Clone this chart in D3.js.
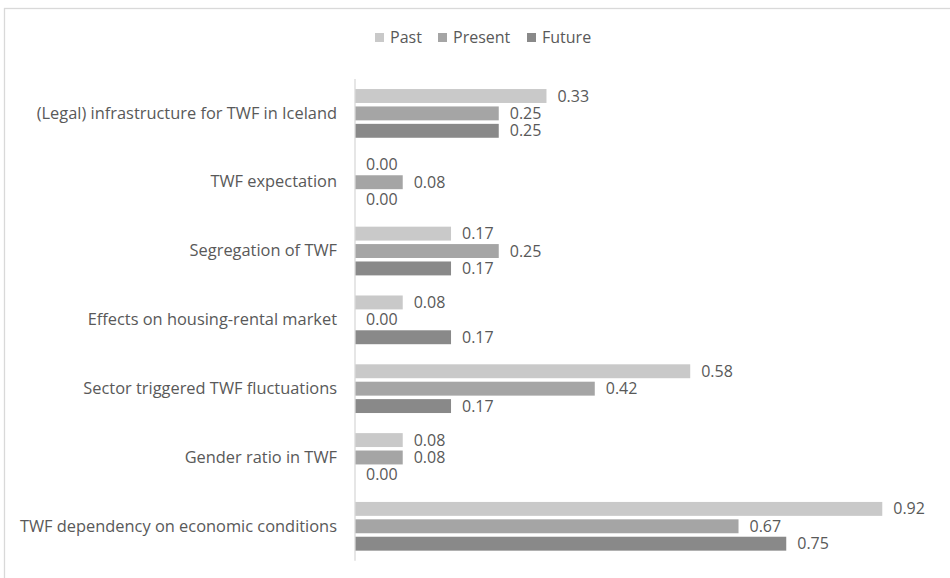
<!DOCTYPE html>
<html>
<head>
<meta charset="utf-8">
<script src="https://cdnjs.cloudflare.com/ajax/libs/d3/7.8.5/d3.min.js"></script>
<style>
  body { margin: 0; background: #fff; }
  svg { display: block; font-family: "Open Sans", "Segoe UI", sans-serif; }
</style>
</head>
<body>
<svg class="chart" width="950" height="578"></svg>
<script>
// data (shares, labels shown with 2 decimals)
var categories = [
  "(Legal) infrastructure for TWF in Iceland",
  "TWF expectation",
  "Segregation of TWF",
  "Effects on housing-rental market",
  "Sector triggered TWF fluctuations",
  "Gender ratio in TWF",
  "TWF dependency on economic conditions"
];
var series = ["Past", "Present", "Future"];
var past    = [0.333, 0.000, 0.167, 0.083, 0.583, 0.083, 0.917];
var present = [0.250, 0.083, 0.250, 0.000, 0.417, 0.083, 0.667];
var future  = [0.250, 0.000, 0.167, 0.167, 0.167, 0.000, 0.750];
var colors = ["#c9c9c9", "#a5a5a5", "#898989"];
var text_color = "#595959";

var svg = d3.select(".chart");

// chart frame
svg.append("rect")
  .attr("x", 4.5).attr("y", 8.5)
  .attr("width", 960).attr("height", 600)
  .attr("fill", "none")
  .attr("stroke", "#d9d9d9")
  .attr("stroke-width", 1.3);

var x = d3.scaleLinear().domain([0, 1]).range([355, 930]);
var y = d3.scaleBand().domain(categories).range([79, 560.7])
  .paddingInner(0.292).paddingOuter(0.146);
var ys = d3.scaleBand().domain(series).range([0, y.bandwidth()])
  .paddingInner(0.2);

var rows = categories.map(function(c, i) {
  return {cat: c, vals: [past[i], present[i], future[i]]};
});

var groups = svg.append("g").selectAll("g")
  .data(rows).enter().append("g")
  .attr("transform", function(d) { return "translate(0," + y(d.cat) + ")"; });

groups.selectAll("rect")
  .data(function(d) { return d.vals.map(function(v, j) { return {s: series[j], v: v, j: j}; }); })
  .enter().append("rect")
  .attr("x", x(0))
  .attr("y", function(d) { return ys(d.s); })
  .attr("width", function(d) { return x(d.v) - x(0); })
  .attr("height", ys.bandwidth())
  .attr("fill", function(d) { return colors[d.j]; });

groups.selectAll("text.val")
  .data(function(d) { return d.vals.map(function(v, j) { return {s: series[j], v: v}; }); })
  .enter().append("text")
  .attr("class", "val")
  .attr("x", function(d) { return x(d.v) + 11; })
  .attr("y", function(d) { return ys(d.s) + ys.bandwidth() / 2; })
  .attr("dy", "0.35em")
  .attr("font-size", 16)
  .attr("fill", text_color)
  .text(function(d) { return d3.format(".2f")(d.v); });

// category axis
var yAxis = svg.append("g")
  .attr("transform", "translate(" + x(0) + ",0)")
  .call(d3.axisLeft(y).tickSize(0).tickPadding(18));
yAxis.select(".domain").attr("stroke", "#d9d9d9").attr("stroke-width", 1.3)
  .attr("d", "M0," + 79 + "V" + 560.7);
yAxis.selectAll("text")
  .attr("font-size", 16.4)
  .attr("font-family", "\"Open Sans\", sans-serif")
  .attr("fill", text_color);

// legend
var legendX = [375, 438, 527];
var legend = svg.append("g").selectAll("g")
  .data(series).enter().append("g")
  .attr("transform", function(d, i) { return "translate(" + legendX[i] + ",37.5)"; });
legend.append("rect")
  .attr("x", 0).attr("y", -4.5)
  .attr("width", 9).attr("height", 9)
  .attr("fill", function(d, i) { return colors[i]; });
legend.append("text")
  .attr("x", 15).attr("dy", "0.35em")
  .attr("font-size", 16)
  .attr("fill", text_color)
  .text(function(d) { return d; });
</script>
</body>
</html>
